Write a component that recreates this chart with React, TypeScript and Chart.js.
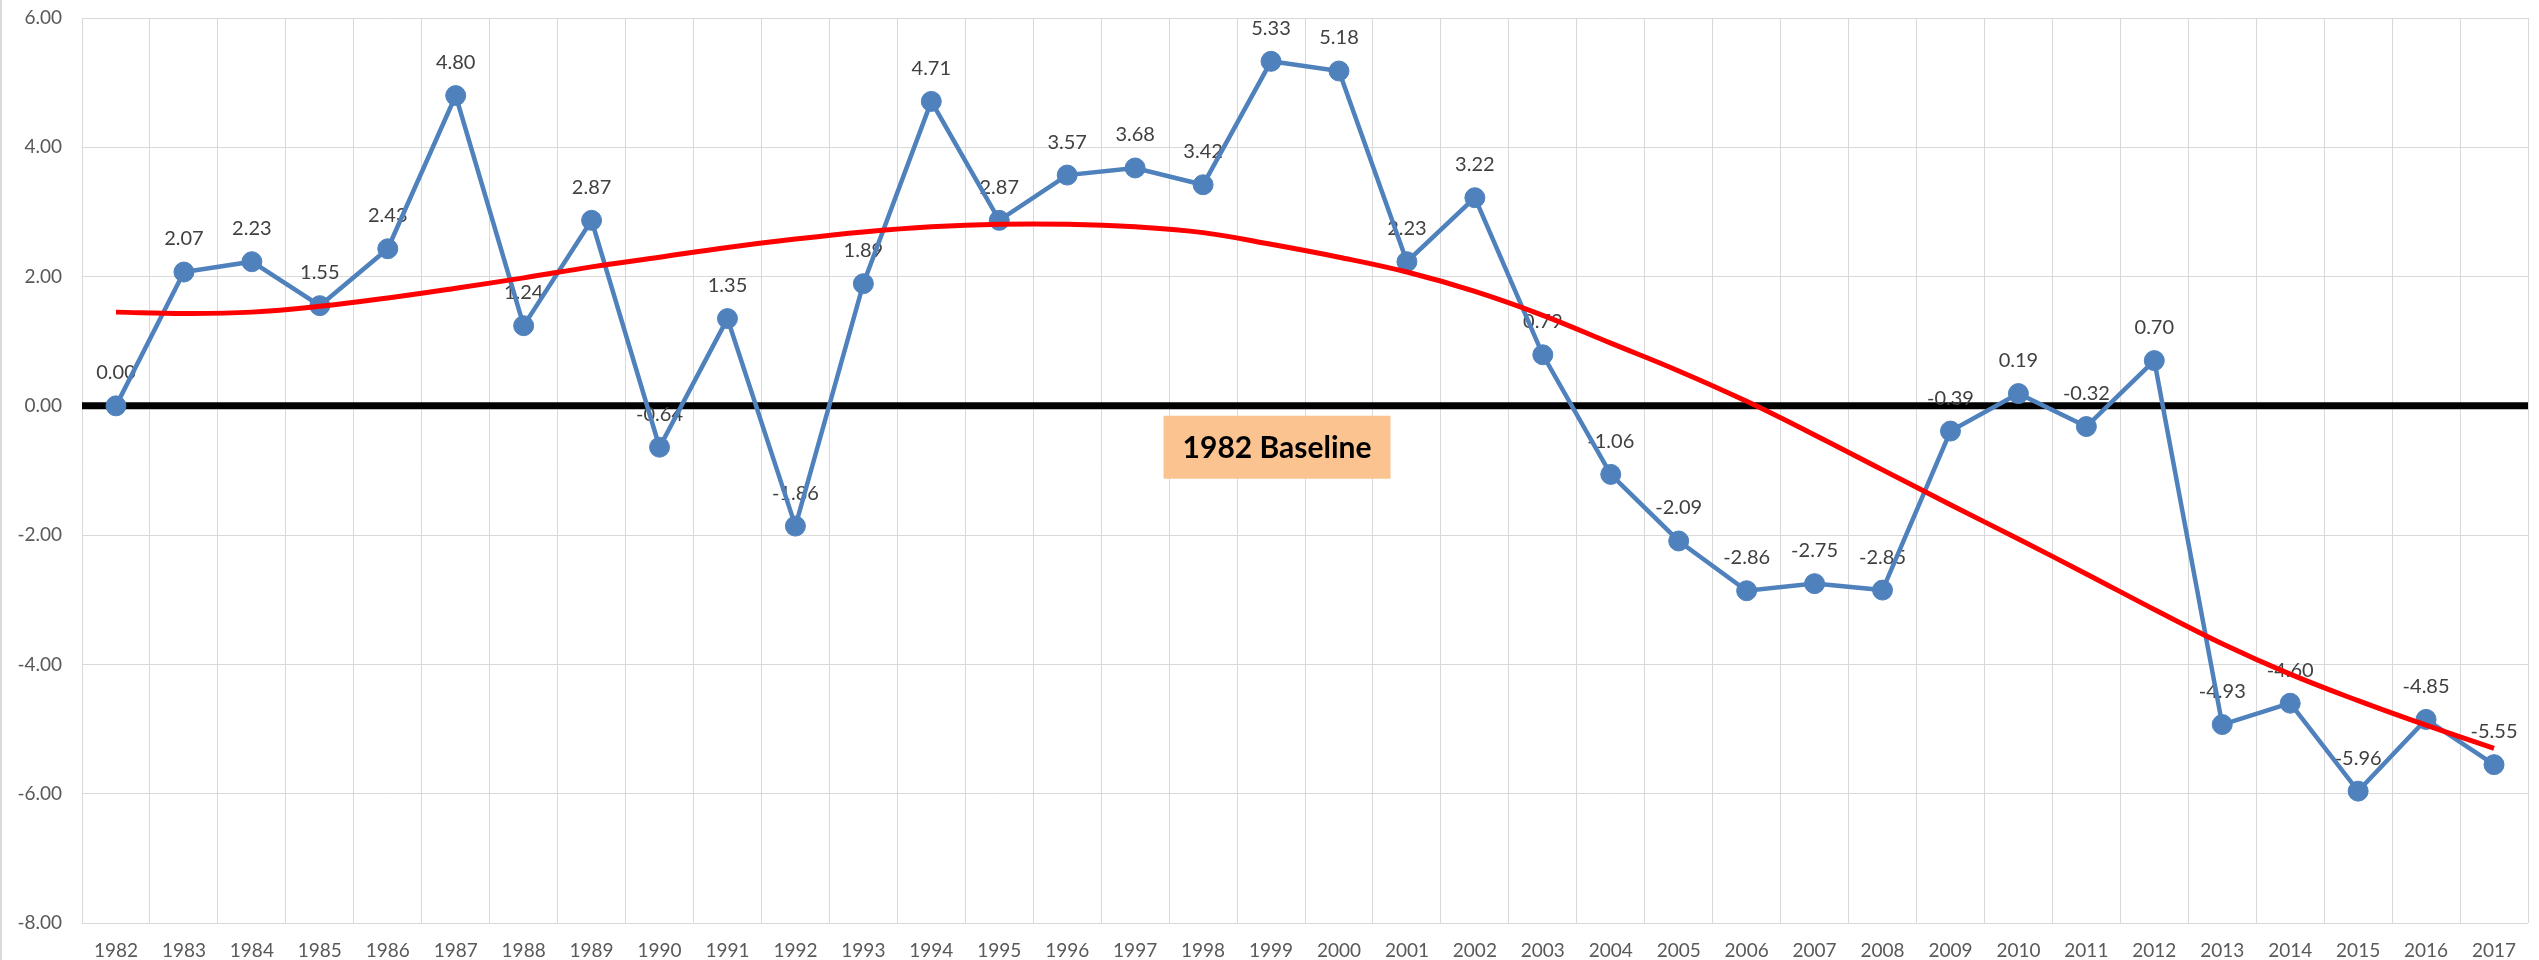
import React, { useEffect, useRef } from 'react';
import { Chart, registerables } from 'chart.js';

Chart.register(...registerables);

const years: string[] = [
  '1982', '1983', '1984', '1985', '1986', '1987', '1988', '1989', '1990', '1991',
  '1992', '1993', '1994', '1995', '1996', '1997', '1998', '1999', '2000', '2001',
  '2002', '2003', '2004', '2005', '2006', '2007', '2008', '2009', '2010', '2011',
  '2012', '2013', '2014', '2015', '2016', '2017',
];

const changeValues: number[] = [
  0.0, 2.07, 2.23, 1.55, 2.43, 4.8, 1.24, 2.87, -0.64, 1.35,
  -1.86, 1.89, 4.71, 2.87, 3.57, 3.68, 3.42, 5.33, 5.18, 2.23,
  3.22, 0.79, -1.06, -2.09, -2.86, -2.75, -2.85, -0.39, 0.19, -0.32,
  0.7, -4.93, -4.6, -5.96, -4.85, -5.55,
];

// red trendline at each year
const trendValues: number[] = [
  1.45, 1.43, 1.45, 1.54, 1.67, 1.82, 1.98, 2.15, 2.3, 2.45,
  2.58, 2.69, 2.77, 2.81, 2.81, 2.77, 2.68, 2.5, 2.3, 2.07,
  1.77, 1.4, 0.97, 0.54, 0.07, -0.45, -0.99, -1.53, -2.06, -2.6,
  -3.15, -3.68, -4.15, -4.56, -4.94, -5.3,
];

const yMin = -8;
const yMax = 6;
const yStep = 2;

const baselineText = '1982 Baseline';
const baselineYear = '1999';
const baselineValue = -0.64;

const FONT = 'Lato, "Open Sans", sans-serif';

const zeroLinePlugin = {
  id: 'zeroLine',
  beforeDatasetsDraw(chart: any) {
    const { ctx, chartArea, scales } = chart;
    const y = scales.y.getPixelForValue(0);
    ctx.save();
    ctx.strokeStyle = '#000000';
    ctx.lineWidth = 7;
    ctx.beginPath();
    ctx.moveTo(chartArea.left, y);
    ctx.lineTo(chartArea.right, y);
    ctx.stroke();

    // data labels (under the lines)
    const meta = chart.getDatasetMeta(1);
    ctx.fillStyle = '#404040';
    ctx.font = `20px ${FONT}`;
    ctx.textAlign = 'center';
    ctx.textBaseline = 'middle';
    meta.data.forEach((pt: any, i: number) => {
      const v = changeValues[i];
      ctx.fillText(v.toFixed(2), pt.x, pt.y - 33);
    });
    ctx.restore();
  },
};

const annotationPlugin = {
  id: 'baselineBox',
  afterDatasetsDraw(chart: any) {
    const { ctx, scales } = chart;
    const idx = years.indexOf(baselineYear);
    const cx = scales.x.getPixelForValue(idx) + 6;
    const cy = scales.y.getPixelForValue(baselineValue);
    const w = 227;
    const h = 63;
    ctx.save();
    ctx.fillStyle = '#FAC390';
    ctx.fillRect(cx - w / 2, cy - h / 2, w, h);
    ctx.fillStyle = '#000000';
    ctx.font = `bold 30px ${FONT}`;
    ctx.textAlign = 'center';
    ctx.textBaseline = 'middle';
    ctx.fillText(baselineText, cx, cy + 1);
    ctx.restore();
  },
  afterDraw(chart: any) {
    const { ctx, height } = chart;
    ctx.save();
    ctx.strokeStyle = '#D9D9D9';
    ctx.lineWidth = 2;
    ctx.beginPath();
    ctx.moveTo(1, 0);
    ctx.lineTo(1, height);
    ctx.stroke();
    ctx.restore();
  },
};

export default function App() {
  const canvasRef = useRef<HTMLCanvasElement | null>(null);

  useEffect(() => {
    if (!canvasRef.current) return;
    const chart = new Chart(canvasRef.current, {
      type: 'line',
      data: {
        labels: years,
        datasets: [
          {
            label: 'Trend',
            data: trendValues,
            borderColor: '#FF0000',
            borderWidth: 5,
            pointRadius: 0,
            tension: 0.4,
            fill: false,
            order: 0,
          },
          {
            label: 'Change',
            data: changeValues,
            borderColor: '#4F81BD',
            borderWidth: 4.5,
            pointRadius: 10,
            pointBackgroundColor: '#4F81BD',
            pointBorderColor: '#4F81BD',
            pointBorderWidth: 1,
            tension: 0,
            fill: false,
            order: 1,
          },
        ],
      },
      options: {
        animation: false,
        responsive: true,
        maintainAspectRatio: false,
        layout: { padding: { left: 0, right: 2, top: 18, bottom: 0 } },
        plugins: {
          legend: { display: false },
          tooltip: { enabled: false },
        },
        scales: {
          x: {
            type: 'category',
            offset: true,
            grid: { offset: true, color: '#D9D9D9', lineWidth: 1, drawTicks: false },
            border: { display: false },
            ticks: {
              autoSkip: false,
              maxRotation: 0,
              minRotation: 0,
              color: '#595959',
              padding: 16,
              font: { family: FONT, size: 19 },
            },
            afterFit(scale: any) {
              scale.height = 37;
              scale.paddingLeft = 0;
              scale.paddingRight = 0;
            },
          },
          y: {
            min: yMin,
            max: yMax,
            grid: { color: '#D9D9D9', lineWidth: 1, drawTicks: false },
            border: { display: false },
            ticks: {
              stepSize: yStep,
              color: '#595959',
              padding: 20,
              font: { family: FONT, size: 19 },
              callback: (v: any) => Number(v).toFixed(2),
            },
            afterFit(scale: any) {
              scale.width = 82;
              scale.paddingTop = 0;
              scale.paddingBottom = 0;
            },
          },
        },
      },
      plugins: [zeroLinePlugin, annotationPlugin],
    });
    return () => chart.destroy();
  }, []);

  return (
    <div
      style={{
        position: 'fixed',
        left: 0,
        top: 0,
        width: 2539,
        height: 960,
        background: '#ffffff',
      }}
    >
      <canvas ref={canvasRef} />
    </div>
  );
}
